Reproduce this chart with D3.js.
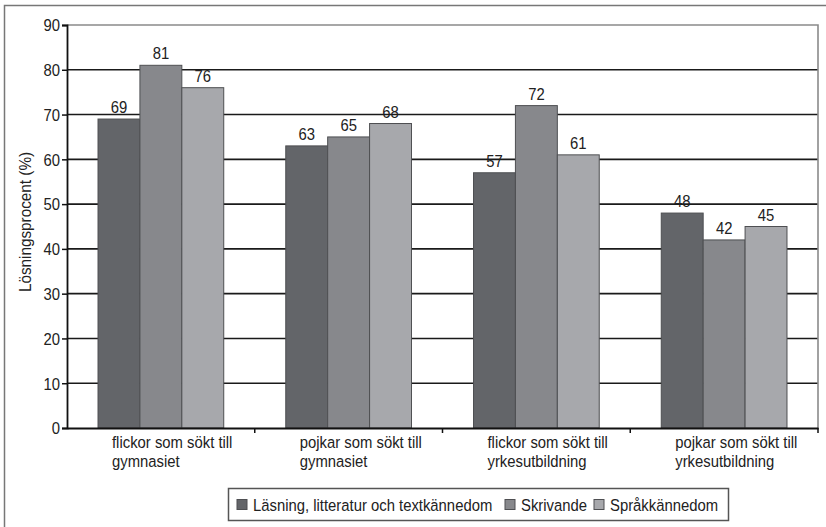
<!DOCTYPE html>
<html>
<head>
<meta charset="utf-8">
<script src="https://cdn.jsdelivr.net/npm/d3@7/dist/d3.min.js"></script>
<style>
  html, body { margin: 0; padding: 0; background: #fff; }
  svg { display: block; }
  text { font-family: "Liberation Sans", Arial, sans-serif; fill: #222; }
</style>
</head>
<body>
<svg id="chart" width="826" height="527"></svg>
<script>
// Grupper (kategorier) – två rader per etikett
const categories = [
  ["flickor som sökt till", "gymnasiet"],
  ["pojkar som sökt till", "gymnasiet"],
  ["flickor som sökt till", "yrkesutbildning"],
  ["pojkar som sökt till", "yrkesutbildning"]
];
const seriesNames = ["Läsning, litteratur och textkännedom", "Skrivande", "Språkkännedom"];
const lasning = [69, 63, 57, 48];
const skrivande = [81, 65, 72, 42];
const sprak = [76, 68, 61, 45];
const yTicks = [0, 10, 20, 30, 40, 50, 60, 70, 80, 90];
const yTitle = "Lösningsprocent (%)";

const colors = ["#636569", "#87888c", "#a7a8ac"];
const seriesValues = [lasning, skrivande, sprak];
const FS = 16.5;   // teckenstorlek
const SX = 0.9;    // smalare typsnitt (horisontell skalning)

// Placerar en text vid (x, y) med horisontellt komprimerade tecken
const place = (x, y) => `translate(${x},${y}) scale(${SX},1)`;

const svg = d3.select("#chart");

// Yttre ram
svg.append("rect")
  .attr("x", 4.5).attr("y", 5.5).attr("width", 840).attr("height", 540)
  .attr("fill", "none").attr("stroke", "#777").attr("stroke-width", 1.5);

const plot = { left: 67, right: 818, top: 25, bottom: 428 };

const x0 = d3.scaleBand()
  .domain(d3.range(categories.length))
  .range([plot.left, plot.right])
  .paddingInner(0).paddingOuter(0);

const x1 = d3.scaleBand()
  .domain(d3.range(seriesNames.length))
  .range([0, x0.bandwidth()])
  .paddingOuter(0.74).paddingInner(0);

const y = d3.scaleLinear().domain([0, 90]).range([plot.bottom, plot.top]);

// Rutnät
svg.append("g")
  .selectAll("line")
  .data(yTicks.filter(t => t > 0 && t < 90))
  .join("line")
  .attr("x1", plot.left).attr("x2", plot.right)
  .attr("y1", d => y(d)).attr("y2", d => y(d))
  .attr("stroke", "#1a1a1a").attr("stroke-width", 1.6);

// Ram runt diagramytan (topp och höger)
svg.append("path")
  .attr("d", `M${plot.left},${y(90)}H${plot.right}V${plot.bottom}`)
  .attr("fill", "none").attr("stroke", "#8a8a8a").attr("stroke-width", 1.6);

// Staplar
const groups = svg.append("g")
  .selectAll("g")
  .data(categories.map((c, i) => i))
  .join("g")
  .attr("transform", i => `translate(${x0(i)},0)`);

groups.selectAll("rect")
  .data(i => seriesValues.map((vals, s) => ({ s, v: vals[i] })))
  .join("rect")
  .attr("x", d => x1(d.s))
  .attr("y", d => y(d.v))
  .attr("width", x1.bandwidth())
  .attr("height", d => y(0) - y(d.v))
  .attr("fill", d => colors[d.s])
  .attr("stroke", "#4e4f52").attr("stroke-width", 1);

groups.selectAll("text.val")
  .data(i => seriesValues.map((vals, s) => ({ s, v: vals[i] })))
  .join("text")
  .attr("class", "val")
  .attr("transform", d => place(x1(d.s) + x1.bandwidth() / 2, y(d.v) - 6))
  .attr("text-anchor", "middle")
  .attr("font-size", FS)
  .text(d => d.v);

// Y-axel
const yAxis = d3.axisLeft(y).tickValues(yTicks).tickSize(5).tickPadding(2);
const gy = svg.append("g")
  .attr("transform", `translate(${plot.left},0)`)
  .call(yAxis);
gy.select(".domain").attr("stroke", "#111").attr("stroke-width", 1.8);
gy.selectAll(".tick line").attr("stroke", "#111").attr("stroke-width", 1.5);
gy.selectAll(".tick text")
  .attr("x", null).attr("dy", null)
  .attr("transform", place(-7, 5.8))
  .attr("font-size", FS)
  .attr("font-family", "Liberation Sans, Arial, sans-serif")
  .attr("fill", "#222");

// X-axel
const xAxis = d3.axisBottom(x0).tickSize(0).tickFormat(() => "");
const gx = svg.append("g")
  .attr("transform", `translate(0,${plot.bottom})`)
  .call(xAxis);
gx.select(".domain").attr("stroke", "#111").attr("stroke-width", 1.8);
gx.selectAll(".tick").remove();

// Skiljestreck mellan grupperna
svg.append("g")
  .selectAll("line")
  .data(d3.range(1, categories.length + 1))
  .join("line")
  .attr("x1", i => i < categories.length ? x0(i) : plot.right)
  .attr("x2", i => i < categories.length ? x0(i) : plot.right)
  .attr("y1", plot.bottom).attr("y2", plot.bottom + 5)
  .attr("stroke", "#111").attr("stroke-width", 1.5);

// Kategorietiketter
const catLabels = svg.append("g")
  .selectAll("text")
  .data(categories.map((c, i) => ({ c, i })))
  .join("text")
  .attr("font-size", FS)
  .attr("transform", d => place(x0(d.i) + 45, plot.bottom + 20));
catLabels.selectAll("tspan")
  .data(d => d.c)
  .join("tspan")
  .attr("x", 0)
  .attr("dy", (d, k) => k === 0 ? 0 : 19)
  .text(d => d);

// Y-axelns titel
svg.append("text")
  .attr("transform", `translate(31,222) rotate(-90) scale(${SX},1)`)
  .attr("text-anchor", "middle")
  .attr("font-size", 17)
  .text(yTitle);

// Förklaring
const legend = svg.append("g");
legend.append("rect")
  .attr("x", 228.5).attr("y", 488.5).attr("width", 500).attr("height", 32)
  .attr("fill", "#fff").attr("stroke", "#555").attr("stroke-width", 1.5);

const legendX = [237, 505, 594];
seriesNames.forEach((name, s) => {
  legend.append("rect")
    .attr("x", legendX[s]).attr("y", 499.5)
    .attr("width", 10).attr("height", 10)
    .attr("fill", colors[s]).attr("stroke", "#4e4f52").attr("stroke-width", 1);
  legend.append("text")
    .attr("transform", place(legendX[s] + 16, 510.5))
    .attr("font-size", FS)
    .text(name);
});
</script>
</body>
</html>
